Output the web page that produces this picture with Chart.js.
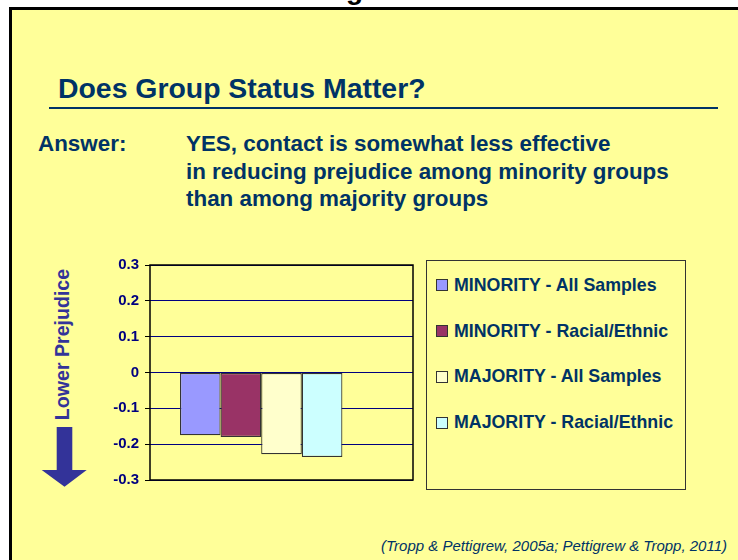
<!DOCTYPE html>
<html>
<head>
<meta charset="utf-8">
<script src="https://cdn.jsdelivr.net/npm/chart.js@4.4.0/dist/chart.umd.min.js"></script>
<style>
    body {
        margin: 0;
        width: 738px;
        height: 560px;
        overflow: hidden;
        position: relative;
        background: #ffffff;
        font-family: Arial, "Liberation Sans", sans-serif;
    }
    .slide {
        position: absolute;
        left: 9px;
        top: 7px;
        width: 726px;
        height: 550px;
        border-left: 3px solid #000;
        border-top: 3px solid #000;
        background: #ffff99;
    }
    .cut-title {
        position: absolute;
        left: 346px;
        top: -24px;
        font: bold 28px Arial, "Liberation Sans", sans-serif;
        line-height: 28px;
        color: #000;
    }
    .title {
        position: absolute;
        left: 58px;
        top: 74px;
        font-weight: bold;
        font-size: 28.4px;
        line-height: 28.4px;
        color: #003366;
        white-space: nowrap;
    }
    .rule {
        position: absolute;
        left: 49px;
        top: 106.5px;
        width: 669px;
        height: 2.5px;
        background: #003366;
    }
    .answer, .answer-text {
        position: absolute;
        top: 130px;
        font-weight: bold;
        font-size: 22.4px;
        line-height: 27.7px;
        color: #003366;
        white-space: nowrap;
    }
    .answer { left: 38px; }
    .answer-text { left: 186px; }
    .y-title {
        position: absolute;
        left: -23px;
        top: 334.5px;
        width: 170px;
        height: 19px;
        line-height: 19px;
        text-align: center;
        font-weight: bold;
        font-size: 19.6px;
        color: #333399;
        transform: rotate(-90deg);
        white-space: nowrap;
    }
    .arrow {
        position: absolute;
        left: 0;
        top: 0;
    }
    .chart-wrap {
        position: absolute;
        left: 90px;
        top: 250px;
        width: 330px;
        height: 245px;
    }
    .legend-box {
        position: absolute;
        left: 426px;
        top: 260px;
        width: 258px;
        height: 227px;
        border: 1.5px solid #333;
        padding-top: 1.4px;
        box-sizing: content-box;
    }
    .legend-item {
        height: 45.8px;
        display: flex;
        align-items: center;
        padding-left: 9px;
        font-weight: bold;
        font-size: 17.8px;
        color: #003366;
        white-space: nowrap;
    }
    .legend-item span.swatch {
        display: inline-block;
        width: 10px;
        height: 10px;
        border: 1px solid #333;
        margin-right: 6px;
    }
    .cite {
        position: absolute;
        left: 381px;
        top: 538px;
        font-style: italic;
        font-size: 15px;
        line-height: 15px;
        color: #003366;
        white-space: nowrap;
    }
</style>
</head>
<body>
<div class="slide"></div>
<div class="cut-title">g</div>
<div class="title">Does Group Status Matter?</div>
<div class="rule"></div>
<div class="answer">Answer:</div>
<div class="answer-text" id="answerText"></div>
<div class="y-title">Lower Prejudice</div>
<svg class="arrow" width="100" height="500">
    <polygon points="56.7,427 72.3,427 72.3,470 86.7,470 64.5,486.7 41.7,470 56.7,470" fill="#333399"/>
</svg>
<div class="chart-wrap"><canvas id="groupChart"></canvas></div>
<div class="legend-box" id="legendBox"></div>
<div class="cite">(Tropp &amp; Pettigrew, 2005a; Pettigrew &amp; Tropp, 2011)</div>

<script>
// Chart data
const categories = [''];
const seriesLabels = [
    'MINORITY - All Samples',
    'MINORITY - Racial/Ethnic',
    'MAJORITY - All Samples',
    'MAJORITY - Racial/Ethnic',
    ''
];
const seriesValues = [-0.175, -0.18, -0.228, -0.236, null];
const seriesColors = ['#9999ff', '#993366', '#ffffcc', '#ccffff', 'rgba(0,0,0,0)'];
const yTicks = [0.3, 0.2, 0.1, 0, -0.1, -0.2, -0.3];
const yTickLabels = ['0.3', '0.2', '0.1', '0', '-0.1', '-0.2', '-0.3'];
const answerLines = [
    'YES, contact is somewhat less effective',
    'in reducing prejudice among minority groups',
    'than among majority groups'
];

document.addEventListener('DOMContentLoaded', function() {
    initAnswerText();
    initLegend();
    initGroupChart();
});

function initAnswerText() {
    document.getElementById('answerText').innerHTML = answerLines.join('<br>');
}

function initLegend() {
    const box = document.getElementById('legendBox');
    seriesLabels.forEach((label, i) => {
        if (!label) return;
        const item = document.createElement('div');
        item.className = 'legend-item';
        item.innerHTML = `<span class="swatch" style="background:${seriesColors[i]}"></span>${label}`;
        box.appendChild(item);
    });
}

// draws the black frame round the plot area
const plotFrame = {
    id: 'plotFrame',
    afterDatasetsDraw(chart) {
        const a = chart.chartArea;
        const ctx = chart.ctx;
        ctx.save();
        ctx.strokeStyle = '#000';
        ctx.lineWidth = 1.5;
        ctx.strokeRect(a.left, a.top, a.right - a.left, a.bottom - a.top);
        ctx.restore();
    }
};

function initGroupChart() {
    const datasets = seriesLabels.map((label, i) => ({
        label: label,
        data: [seriesValues[i]],
        backgroundColor: seriesColors[i],
        borderColor: i < 4 ? '#333333' : 'rgba(0,0,0,0)',
        borderWidth: 1.2,
        borderSkipped: false
    }));

    new Chart(document.getElementById('groupChart'), {
        type: 'bar',
        data: { labels: categories, datasets: datasets },
        options: {
            responsive: true,
            maintainAspectRatio: false,
            animation: false,
            layout: { padding: { top: 12.5, bottom: 12.3, right: 7, left: 0 } },
            categoryPercentage: 0.772,
            barPercentage: 1,
            scales: {
                x: { display: false },
                y: {
                    min: -0.3,
                    max: 0.3,
                    afterFit: function(scale) { scale.width = 60; },
                    afterBuildTicks: function(scale) {
                        scale.ticks = yTicks.map(v => ({ value: v }));
                    },
                    border: { display: false },
                    grid: {
                        color: '#000080',
                        lineWidth: 1,
                        tickLength: 5,
                        drawTicks: true,
                        tickColor: '#000'
                    },
                    ticks: {
                        padding: 6,
                        color: '#000080',
                        font: { family: 'Arial, "Liberation Sans", sans-serif', size: 15, weight: 'bold' },
                        callback: function(value) {
                            const idx = yTicks.findIndex(t => Math.abs(t - value) < 1e-9);
                            return idx >= 0 ? yTickLabels[idx] : '';
                        }
                    }
                }
            },
            plugins: {
                legend: { display: false },
                tooltip: { enabled: false }
            }
        },
        plugins: [plotFrame]
    });
}
</script>
</body>
</html>
